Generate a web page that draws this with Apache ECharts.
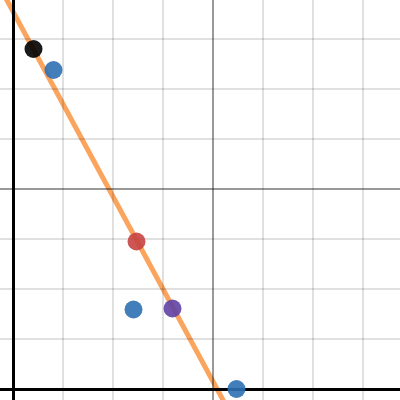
<!DOCTYPE html>
<html>
<head>
<meta charset="utf-8">
<script src="https://cdn.jsdelivr.net/npm/echarts@6/dist/echarts.min.js"></script>
<style>html,body{margin:0;padding:0;background:#fff}#c{width:400px;height:400px}</style>
</head>
<body>
<div id="c"></div>
<script>
// view window (data units)
const xRange = [-0.26, 7.74];
const yRange = [-0.22, 7.78];
// grid lines
const minorX = [1, 2, 3, 5, 6, 7];
const minorY = [1, 2, 3, 5, 6, 7];
const majorX = [4];
const majorY = [4];
const axisX = [0];
const axisY = [0];
// points
const blackPts = [[0.41, 6.80]];
const bluePts = [[0.81, 6.38], [2.41, 1.59], [4.47, 0.0]];
const redPts = [[2.47, 2.95]];
const purplePts = [[3.19, 1.61]];
// fitted line endpoints (extends beyond view)
const fitLine = [[-1, 9.40], [5, -1.70]];

function vLines(arr) { return arr.map(v => ({ xAxis: v })); }
function hLines(arr) { return arr.map(v => ({ yAxis: v })); }
function gridSeries(lines, color, width, z) {
  return {
    type: 'scatter', data: [], silent: true, z: z,
    markLine: {
      silent: true, symbol: ['none', 'none'], animation: false,
      label: { show: false },
      lineStyle: { color: color, width: width, type: 'solid' },
      emphasis: { disabled: true },
      data: lines
    }
  };
}
function pts(data, color) {
  return {
    type: 'scatter', data: data, symbolSize: 18, z: 5,
    itemStyle: { color: color, opacity: 0.9 },
    emphasis: { disabled: true }
  };
}

const chart = echarts.init(document.getElementById('c'), null, { renderer: 'canvas' });
chart.setOption({
  animation: false,
  backgroundColor: '#ffffff',
  grid: { left: 0, right: 0, top: 0, bottom: 0, containLabel: false },
  xAxis: { type: 'value', min: xRange[0], max: xRange[1], show: false, splitLine: { show: false } },
  yAxis: { type: 'value', min: yRange[0], max: yRange[1], show: false, splitLine: { show: false } },
  series: [
    gridSeries(vLines(minorX).concat(hLines(minorY)), 'rgba(0,0,0,0.12)', 2, 1),
    gridSeries(vLines(majorX).concat(hLines(majorY)), 'rgba(0,0,0,0.4)', 2, 2),
    gridSeries(vLines(axisX).concat(hLines(axisY)), '#000000', 3, 3),
    {
      type: 'line', data: fitLine, z: 4, showSymbol: false, symbol: 'none',
      lineStyle: { color: '#fa7e19', width: 5, opacity: 0.7 },
      emphasis: { disabled: true }, clip: true
    },
    pts(blackPts, '#000000'),
    pts(bluePts, '#2d70b3'),
    pts(redPts, '#c74440'),
    pts(purplePts, '#6042a6')
  ]
});
</script>
</body>
</html>
